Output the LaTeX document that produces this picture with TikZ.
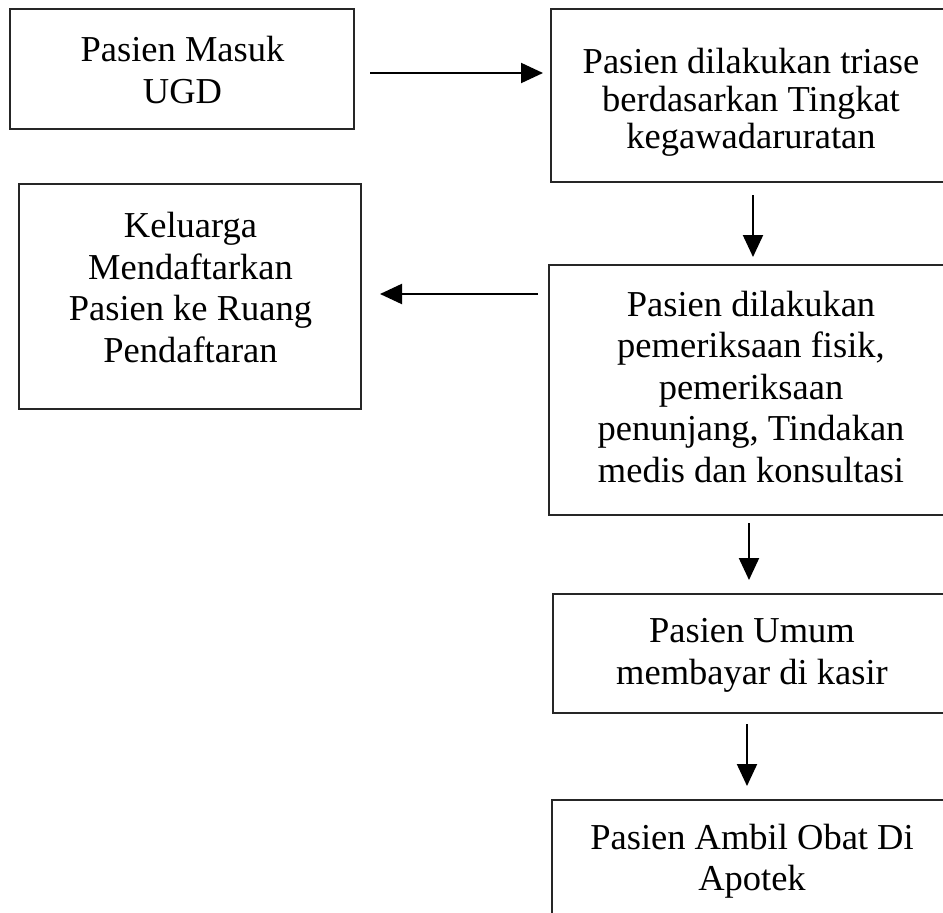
\documentclass[tikz,border=0pt]{standalone}
\usepackage{fontspec}
\setmainfont{Liberation Serif}
\usetikzlibrary{arrows.meta}
\begin{document}
\begin{tikzpicture}[x=1pt,y=-1pt,
  box/.style={draw=black!85, line width=1.9pt, rectangle, outer sep=0pt, inner sep=0pt},
  txt/.style={align=center, inner sep=0pt, font=\fontsize{36.5}{41.5}\selectfont},
  flow/.style={line width=2.1pt, -{Triangle[length=22pt,width=20pt]}}]
\useasboundingbox (0,0) rectangle (943,913);
\clip (0,0) rectangle (943,913);
% boxes
\node[box, minimum width=344pt, minimum height=120pt] (b1) at (182,69) {};
\node[box, minimum width=402pt, minimum height=173pt] (b2) at (752,95.5) {};
\node[box, minimum width=342pt, minimum height=225pt] (b3) at (190,296.5) {};
\node[box, minimum width=404pt, minimum height=250pt] (b4) at (751,390) {};
\node[box, minimum width=400pt, minimum height=119pt] (b5) at (753,653.5) {};
\node[box, minimum width=401pt, minimum height=200pt] (b6) at (752.5,900) {};
% texts
\node[txt] (t1) at (182.5,70) {Pasien Masuk\\UGD};
\node[txt, font=\fontsize{36.5}{37.5}\selectfont] (t2) at (751,102.5) {Pasien dilakukan triase\\berdasarkan Tingkat\\kegawadaruratan};
\node[txt] (t3) at (190.5,287.5) {Keluarga\\Mendaftarkan\\Pasien ke Ruang\\Pendaftaran};
\node[txt] (t4) at (751,387) {Pasien dilakukan\\pemeriksaan fisik,\\pemeriksaan\\penunjang, Tindakan\\medis dan konsultasi};
\node[txt] (t5) at (752,655.5) {Pasien Umum\\membayar di kasir};
\node[txt] (t6) at (752,861) {Pasien Ambil Obat Di\\Apotek};
% connectors
\draw[flow, shorten <=16pt, shorten >=8pt] ([yshift=-4pt]b1.east) -- ([yshift=-4pt]b1.east -| b2.west);
\draw[flow, shorten <=13pt, shorten >=8pt] ([xshift=1pt]b2.south) -- ([xshift=1pt]b2.south |- b4.north);
\draw[flow, shorten <=11pt, shorten >=19pt] ([yshift=2.5pt]b4.west |- b3.east) -- ([yshift=2.5pt]b3.east);
\draw[flow, shorten <=8pt, shorten >=14pt] ([xshift=-2pt]b4.south) -- ([xshift=-2pt]b4.south |- b5.north);
\draw[flow, shorten <=11pt, shorten >=14pt] ([xshift=-6pt]b5.south) -- ([xshift=-6pt]b5.south |- b6.north);
\end{tikzpicture}
\end{document}
